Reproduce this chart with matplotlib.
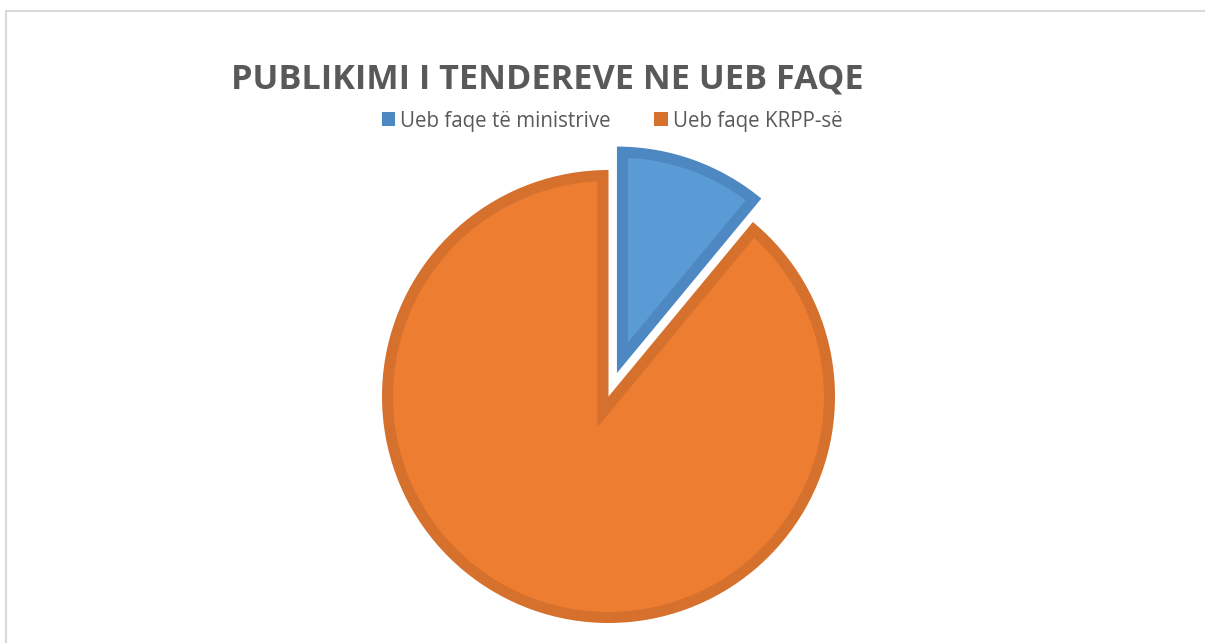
import numpy as np
import matplotlib
matplotlib.use("Agg")
import matplotlib.pyplot as plt
from matplotlib.patches import Rectangle, Polygon

title = "PUBLIKIMI I TENDEREVE NE UEB FAQE"
labels = ["Ueb faqe të ministrive", "Ueb faqe KRPP-së"]
values = [11, 89]
fill_colors = ["#5B9BD5", "#ED7D31"]
edge_colors = ["#4E88C2", "#D5702D"]
explode = [0.11, 0.0]

W, H, DPI = 1205, 643, 100
fig = plt.figure(figsize=(W / DPI, H / DPI), dpi=DPI)
fig.patch.set_facecolor("white")

# chart frame (only top & left visible)
frame = Rectangle((6 / W, -0.1), 1.2, (H - 10.5) / H + 0.1, transform=fig.transFigure,
                  fill=False, edgecolor="#D9D9D9", linewidth=1.5)
fig.add_artist(frame)

# pie axes: center (608.5, 396.5), radius 226.5 px
cx, cy, r = 608.5, 396.5, 226.5
ax = fig.add_axes([(cx - r) / W, (H - cy - r) / H, 2 * r / W, 2 * r / H])
ax.set_aspect("equal")
ax.axis("off")

wedges, _ = ax.pie(values, colors=edge_colors, startangle=90, counterclock=False,
                   explode=explode, radius=1.0, center=(0, 0),
                   wedgeprops=dict(linewidth=0))
ax.set_xlim(-1, 1)
ax.set_ylim(-1, 1)
for w in wedges:
    w.set_clip_on(False)


def inset_wedge(c, rad, t1, t2, d):
    """Polygon of a wedge shrunk inward by d (mitered apex)."""
    c = np.asarray(c, float)
    a1, a2 = np.radians(t1), np.radians(t2)
    half = (a2 - a1) / 2
    bis = (a1 + a2) / 2
    apex = c + d / np.sin(half) * np.array([np.cos(bis), np.sin(bis)])
    ri = rad - d

    def hit(a):
        u = np.array([np.cos(a), np.sin(a)])
        p0 = apex - c
        b = np.dot(p0, u)
        cc = np.dot(p0, p0) - ri ** 2
        t = -b + np.sqrt(b * b - cc)
        q = p0 + t * u
        return np.arctan2(q[1], q[0])

    s1 = hit(a1)
    s2 = hit(a2)
    if s2 < s1:
        s2 += 2 * np.pi
    angs = np.linspace(s1, s2, 400)
    pts = [apex] + [c + ri * np.array([np.cos(a), np.sin(a)]) for a in angs]
    return np.array(pts)


border = 11 / r
for w, fc in zip(wedges, fill_colors):
    poly = inset_wedge(w.center, w.r, w.theta1, w.theta2, border)
    ax.add_patch(Polygon(poly, closed=True, facecolor=fc, edgecolor="none", clip_on=False))

# title
fig.text(547 / W, 1 - 88 / H, title, ha="center", va="baseline",
         fontsize=24.7, fontweight="bold", color="#595959", family="Open Sans")

# legend
sq = 13.5
base_y = 1 - 127 / H
for x0, lab, col in [(381.5, labels[0], edge_colors[0]), (654, labels[1], edge_colors[1])]:
    fig.add_artist(Rectangle((x0 / W, 1 - 126 / H), sq / W, sq / H,
                             transform=fig.transFigure, facecolor=col, edgecolor="none"))
    fig.text((x0 + sq + 5.5) / W, base_y, lab, ha="left", va="baseline",
             fontsize=14.8, color="#595959", family="Open Sans")

fig.savefig("out.png", dpi=DPI, facecolor="white")
